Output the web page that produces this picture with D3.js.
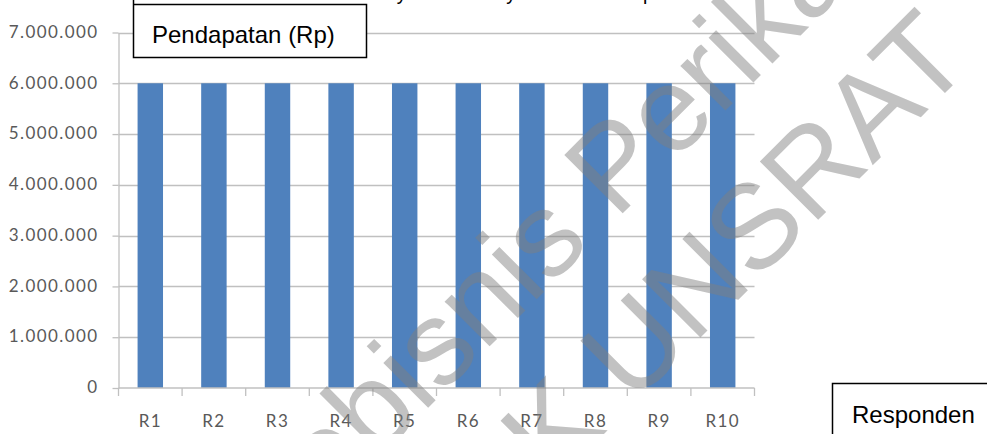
<!DOCTYPE html>
<html>
<head>
<meta charset="utf-8">
<script src="https://cdn.jsdelivr.net/npm/d3@7"></script>
<style>
  html, body { margin: 0; padding: 0; background: #fff; }
  svg { display: block; }
</style>
</head>
<body>
<svg id="chart" width="987" height="434"></svg>
<script>
// Respondents and their monthly income (Rp)
const categories = ["R1", "R2", "R3", "R4", "R5", "R6", "R7", "R8", "R9", "R10"];
const pendapatan = [6000000, 6000000, 6000000, 6000000, 6000000, 6000000, 6000000, 6000000, 6000000, 6000000];
const yTickValues = [0, 1000000, 2000000, 3000000, 4000000, 5000000, 6000000, 7000000];

const titleText = "Masyarakat Nelayan Tradisional per Bulan";
const yAxisTitle = "Pendapatan (Rp)";
const xAxisTitle = "Responden";
const watermarkLines = ["Agrobisnis Perikanan", "FPIK UNSRAT"];

const idLocale = d3.formatLocale({ decimal: ",", thousands: ".", grouping: [3], currency: ["Rp", ""] });
const fmt = idLocale.format(",");

const svg = d3.select("#chart");
const plot = { left: 118.5, right: 754.5, top: 32.5, bottom: 388 };

const x = d3.scaleBand()
  .domain(categories)
  .range([plot.left, plot.right])
  .paddingInner(0.6)
  .paddingOuter(0.3);

const y = d3.scaleLinear()
  .domain([0, 7000000])
  .range([plot.bottom, plot.top]);

const gridColor = "#c0c0c0";
const labelColor = "#595959";
const labelFont = "Lato, 'Open Sans', sans-serif";

// Horizontal gridlines
svg.append("g")
  .selectAll("line")
  .data(yTickValues.filter(v => v > 0))
  .join("line")
  .attr("x1", plot.left)
  .attr("x2", plot.right)
  .attr("y1", d => Math.round(y(d)) + 0.5)
  .attr("y2", d => Math.round(y(d)) + 0.5)
  .attr("stroke", gridColor)
  .attr("stroke-width", 1.3);

// Y axis
const yAxis = svg.append("g")
  .attr("transform", `translate(${plot.left},0)`)
  .call(d3.axisLeft(y).tickValues(yTickValues).tickFormat(fmt).tickSize(6).tickSizeOuter(0).tickPadding(14));
yAxis.select(".domain").attr("stroke", gridColor).attr("stroke-width", 1.3);
yAxis.selectAll(".tick line").attr("stroke", gridColor).attr("stroke-width", 1.3);
yAxis.selectAll(".tick text")
  .attr("fill", labelColor)
  .attr("dy", "0.28em")
  .style("font-family", labelFont)
  .style("font-size", "17px")
  .style("letter-spacing", "1.4px");

// Bars
svg.append("g")
  .selectAll("rect")
  .data(categories.map((c, i) => ({ c, v: pendapatan[i] })))
  .join("rect")
  .attr("x", d => x(d.c))
  .attr("width", x.bandwidth())
  .attr("y", d => y(d.v))
  .attr("height", d => y(0) - y(d.v))
  .attr("fill", "#4f81bd");

// X axis: baseline, boundary ticks and category labels
const xg = svg.append("g");
xg.append("line")
  .attr("x1", plot.left).attr("x2", plot.right)
  .attr("y1", plot.bottom).attr("y2", plot.bottom)
  .attr("stroke", gridColor).attr("stroke-width", 1.3);
const bounds = d3.range(categories.length + 1).map(i => x.range()[0] + i * x.step());
xg.selectAll("line.tk")
  .data(bounds)
  .join("line")
  .attr("class", "tk")
  .attr("x1", d => d).attr("x2", d => d)
  .attr("y1", plot.bottom).attr("y2", plot.bottom + 8)
  .attr("stroke", gridColor).attr("stroke-width", 1.3);
xg.selectAll("text")
  .data(categories)
  .join("text")
  .attr("x", d => x(d) + x.bandwidth() / 2)
  .attr("y", 427)
  .attr("text-anchor", "middle")
  .attr("fill", labelColor)
  .style("font-family", labelFont)
  .style("font-size", "17px")
  .style("letter-spacing", "1.4px")
  .text(d => d);

// Title running off the top edge
svg.append("text")
  .attr("x", 360)
  .attr("y", 0)
  .style("font-family", "'Liberation Sans', Arial, sans-serif")
  .style("font-size", "19.5px")
  .attr("fill", "#000")
  .text(titleText);

// Axis title boxes
const boxFont = "'Liberation Sans', Arial, sans-serif";
svg.append("path")
  .attr("d", "M133.5,0 V57.5 H366.5 V4.5 H133.5")
  .attr("fill", "#fff")
  .attr("stroke", "#000")
  .attr("stroke-width", 1.5);
svg.append("text")
  .attr("x", 152).attr("y", 43)
  .style("font-family", boxFont).style("font-size", "24px")
  .attr("fill", "#000")
  .text(yAxisTitle);

svg.append("rect")
  .attr("x", 832.5).attr("y", 383.5)
  .attr("width", 200).attr("height", 100)
  .attr("fill", "#fff")
  .attr("stroke", "#000")
  .attr("stroke-width", 1.5);
svg.append("text")
  .attr("x", 852).attr("y", 423)
  .style("font-family", boxFont).style("font-size", "24px")
  .attr("fill", "#000")
  .text(xAxisTitle);

// Diagonal watermark
const wm = svg.append("g").attr("pointer-events", "none");
const wmAnchors = [[196, 640], [420, 618]];
watermarkLines.forEach((t, i) => {
  wm.append("text")
    .attr("transform", `translate(${wmAnchors[i][0]},${wmAnchors[i][1]}) rotate(-45)`)
    .style("font-family", boxFont)
    .style("font-size", "120px")
    .attr("fill", "#808080")
    .attr("fill-opacity", 0.48)
    .text(t);
});
</script>
</body>
</html>
